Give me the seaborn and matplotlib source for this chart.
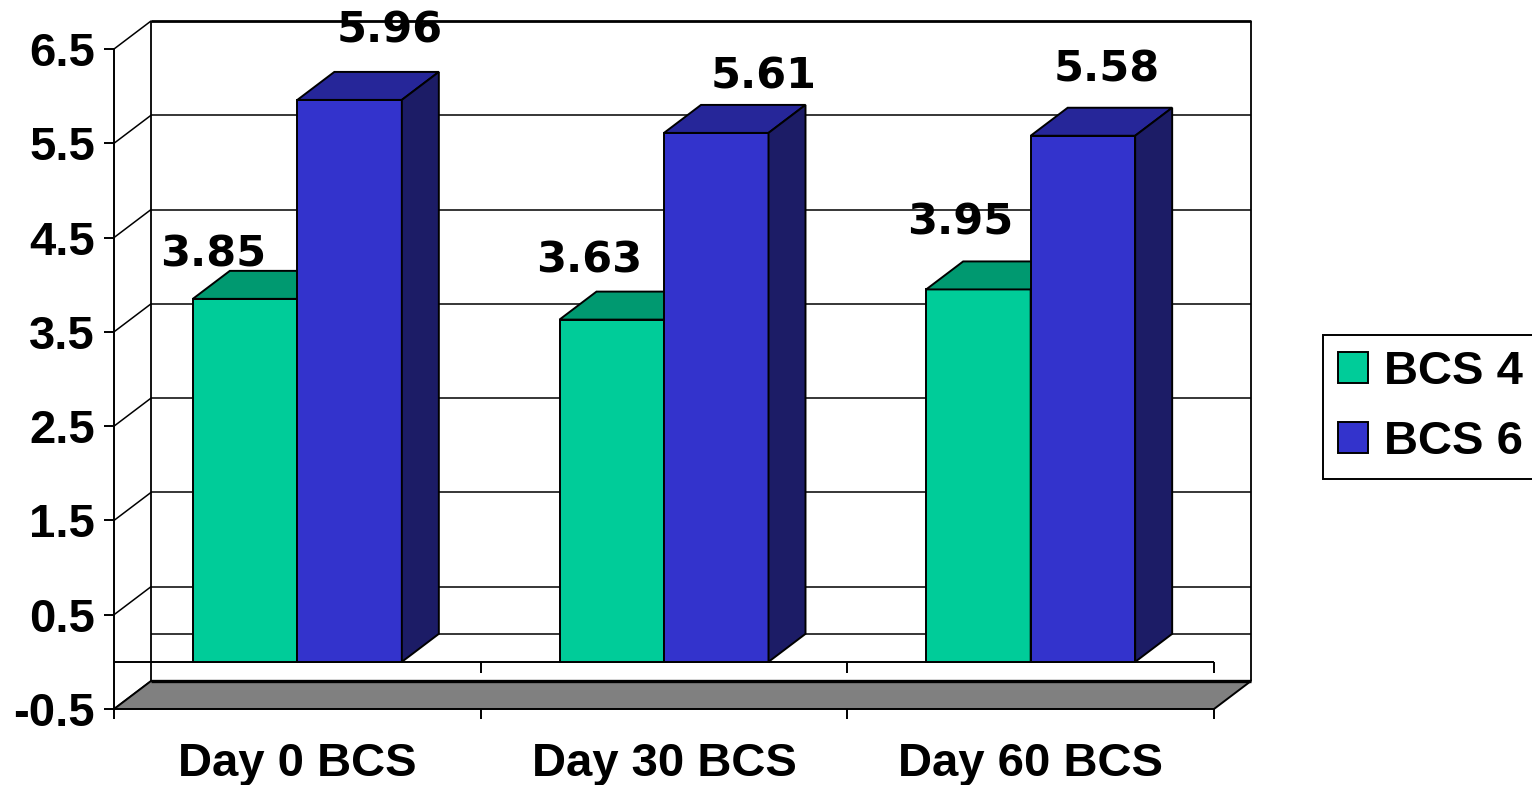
import matplotlib
matplotlib.use("Agg")
import matplotlib.pyplot as plt
from matplotlib.patches import Polygon, Patch
import seaborn as sns
import pandas as pd

# ---- data -------------------------------------------------------------
days = ["Day 0 BCS", "Day 30 BCS", "Day 60 BCS"]
groups = ["BCS 4", "BCS 6"]
bcs4 = [3.85, 3.63, 3.95]
bcs6 = [5.96, 5.61, 5.58]
y_ticks = [-0.5, 0.5, 1.5, 2.5, 3.5, 4.5, 5.5, 6.5]
y_tick_labels = ["-0.5", "0.5", "1.5", "2.5", "3.5", "4.5", "5.5", "6.5"]

# ---- styling ----------------------------------------------------------
front_colors = {"BCS 4": "#00CC99", "BCS 6": "#3333CC"}
top_colors = {"BCS 4": "#009970", "BCS 6": "#262699"}
side_colors = {"BCS 4": "#006B4F", "BCS 6": "#1C1C66"}
floor_color = "#808080"
EDGE_LW = 1.4
TEXT_SIZE = 34

# value-label nudges (pixels) from the front-top centre of each bar
label_nudge = {
    "BCS 4": [(-32, 32), (-23, 47), (-18, 55)],
    "BCS 6": [(40, 57), (47, 44), (24, 54)],
}

sns.set_theme(style="white")
plt.rcParams["font.family"] = ["Liberation Sans", "DejaVu Sans"]
plt.rcParams["font.weight"] = "bold"
plt.rcParams["text.color"] = "black"

W, H = 1532, 785
fig = plt.figure(figsize=(W / 100, H / 100), dpi=100)
fig.patch.set_facecolor("white")

# plot box in pixels: front axis at left, back wall at right/top
X0, X1 = 114, 1251
Y_TOP, Y_BOT = 21, 709
PX_CAT = 1100 / 3.0       # pixels per category
PX_VAL = 660 / 7.0        # pixels per value unit
DX = 37 / PX_CAT          # depth offset (x) in data units
DY = 28 / PX_VAL          # depth offset (y) in data units

ax = fig.add_axes([X0 / W, 1 - Y_BOT / H, (X1 - X0) / W, (Y_BOT - Y_TOP) / H])
ax.set_facecolor("none")

df = pd.DataFrame({
    "day": days * 2,
    "group": [groups[0]] * len(days) + [groups[1]] * len(days),
    "value": bcs4 + bcs6,
})

sns.barplot(data=df, x="day", y="value", hue="group", order=days,
            hue_order=groups, palette=front_colors, saturation=1,
            width=0.57, edgecolor="black", linewidth=EDGE_LW,
            errorbar=None, legend=False, ax=ax)

x_lo, x_hi = -0.5, 2.5

# ---- 3-D faces of the columns -----------------------------------------
for k, (grp, cont) in enumerate(zip(groups, ax.containers)):
    z = 3 + k
    for j, rect in enumerate(cont):
        rect.set_zorder(z)
        bx, bw, bh = rect.get_x(), rect.get_width(), rect.get_height()
        top = Polygon([(bx, bh), (bx + bw, bh), (bx + bw + DX, bh + DY), (bx + DX, bh + DY)],
                      closed=True, facecolor=top_colors[grp], edgecolor="black",
                      linewidth=EDGE_LW, zorder=z, joinstyle="miter")
        side = Polygon([(bx + bw, 0), (bx + bw + DX, DY), (bx + bw + DX, bh + DY), (bx + bw, bh)],
                       closed=True, facecolor=side_colors[grp], edgecolor="black",
                       linewidth=EDGE_LW, zorder=z, joinstyle="miter")
        ax.add_patch(top)
        ax.add_patch(side)
        ndx, ndy = label_nudge[grp][j]
        ax.annotate(f"{bh:.2f}", (bx + bw / 2, bh), xytext=(ndx, ndy),
                    textcoords="offset pixels", ha="center", va="baseline",
                    fontsize=31, fontweight="bold", family="DejaVu Sans",
                    color="black", zorder=7, annotation_clip=False)

# ---- back wall, side wall and floor -----------------------------------
wall_vals = [0, 0.5, 1.5, 2.5, 3.5, 4.5, 5.5]
ax.hlines([v + DY for v in wall_vals], x_lo + DX, x_hi + DX, color="black",
          linewidth=1.1, zorder=1, clip_on=False)
ax.hlines(6.5 + DY, x_lo + DX, x_hi + DX, color="black", linewidth=2.0,
          zorder=1, clip_on=False)
ax.vlines([x_lo + DX, x_hi + DX], -0.5 + DY, 6.5 + DY, color="black",
          linewidth=1.3, zorder=1, clip_on=False)
for v in y_ticks:
    ax.plot([x_lo, x_lo + DX], [v, v + DY], color="black", linewidth=1.1,
            zorder=1, clip_on=False)

floor = Polygon([(x_lo, -0.5), (x_hi, -0.5), (x_hi + DX, -0.5 + DY), (x_lo + DX, -0.5 + DY)],
                closed=True, facecolor=floor_color, edgecolor="black",
                linewidth=EDGE_LW, zorder=2, clip_on=False)
ax.add_patch(floor)
ax.plot([x_lo + DX, x_hi + DX], [-0.5 + DY] * 2, color="black", linewidth=2.4,
        zorder=2, clip_on=False, solid_capstyle="butt")

# category axis line at zero with its tick marks
ax.hlines(0, x_lo, x_hi, color="black", linewidth=EDGE_LW, zorder=2.5)
ax.vlines([0.5, 1.5, 2.5], -11 / PX_VAL, 0, color="black", linewidth=EDGE_LW, zorder=2.5)

# ---- axes, ticks ------------------------------------------------------
ax.set_xlim(x_lo, x_lo + (X1 - X0) / PX_CAT)
ax.set_ylim(-0.5, -0.5 + (Y_BOT - Y_TOP) / PX_VAL)
ax.set_xlabel("")
ax.set_ylabel("")

for name in ["top", "right", "bottom"]:
    ax.spines[name].set_visible(False)
ax.spines["left"].set_visible(True)
ax.spines["left"].set_bounds(-0.5, 6.5)
ax.spines["left"].set_color("black")
ax.spines["left"].set_linewidth(EDGE_LW)

ax.set_yticks(y_ticks, labels=y_tick_labels)
ax.tick_params(axis="y", which="major", left=True, direction="out", length=7.2,
               width=EDGE_LW, pad=6.5, labelsize=TEXT_SIZE, color="black", labelcolor="black")
ax.set_xticks(range(len(days)), labels=days)
ax.set_xticks([-0.5, 0.5, 1.5, 2.5], minor=True)
ax.tick_params(axis="x", which="major", bottom=True, length=0, pad=23.5,
               labelsize=TEXT_SIZE, labelcolor="black")
ax.tick_params(axis="x", which="minor", bottom=True, direction="out", length=7.2,
               width=EDGE_LW, color="black")
for lbl in ax.get_xticklabels() + ax.get_yticklabels():
    lbl.set_fontweight("bold")
ax.grid(False)

# ---- legend -----------------------------------------------------------
handles = [Patch(facecolor=front_colors[g], edgecolor="black", linewidth=EDGE_LW) for g in groups]
leg = fig.legend(handles, groups, loc="upper left",
                 bbox_to_anchor=(1323 / W, 1 - 335 / H), bbox_transform=fig.transFigure,
                 frameon=True, fancybox=False, framealpha=1, edgecolor="black",
                 prop={"weight": "bold", "size": TEXT_SIZE, "family": "Liberation Sans"},
                 labelcolor="black",
                 handlelength=0.64, handleheight=0.64, handletextpad=0.33,
                 borderpad=0.32, labelspacing=0.55, borderaxespad=0)
leg.get_frame().set_linewidth(EDGE_LW)
leg.get_frame().set_boxstyle("square", pad=0)

fig.savefig("out.png", dpi=100, facecolor="white")
